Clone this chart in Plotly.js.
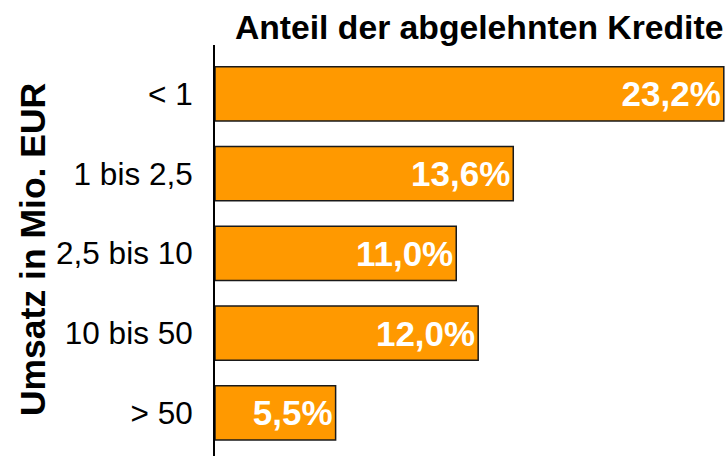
<!DOCTYPE html>
<html>
<head>
<meta charset="utf-8">
<script src="https://cdn.plot.ly/plotly-3.0.1.min.js"></script>
<style>html,body{margin:0;padding:0;background:#fff;}#chart{width:726px;height:456px;}</style>
</head>
<body>
<div id="chart"></div>
<script>
const categories = ["< 1", "1 bis 2,5", "2,5 bis 10", "10 bis 50", "> 50"];
const values = [23.2, 13.6, 11.0, 12.0, 5.5];
const labels = ["23,2%", "13,6%", "11,0%", "12,0%", "5,5%"];

const trace = {
  type: "bar",
  orientation: "h",
  x: values,
  y: categories,
  text: labels,
  textposition: "inside",
  insidetextanchor: "end",
  textangle: 0,
  insidetextfont: {family: "Liberation Sans, Arial, sans-serif", size: 35, color: "#ffffff", weight: "bold"},
  marker: {color: "#FF9900", line: {color: "#1a1a1a", width: 1.5}},
  hoverinfo: "skip",
  cliponaxis: false
};

const layout = {
  width: 726,
  height: 456,
  margin: {l: 215, r: 0, t: 45, b: 0, pad: 0},
  paper_bgcolor: "#ffffff",
  plot_bgcolor: "#ffffff",
  bargap: 0.32,
  showlegend: false,
  font: {family: "Liberation Sans, Arial, sans-serif", color: "#000000"},
  title: {
    text: "<b>Anteil der abgelehnten Kredite</b>",
    font: {family: "Liberation Sans, Arial, sans-serif", size: 33.7, color: "#000000"},
    xref: "container", x: 0.66, xanchor: "center",
    yref: "container", y: 0.94, yanchor: "middle"
  },
  xaxis: {
    range: [0, 23.3],
    visible: false,
    showgrid: false,
    zeroline: false,
    fixedrange: true
  },
  yaxis: {
    type: "category",
    categoryorder: "array",
    categoryarray: categories,
    range: [4.54, -0.614],
    showline: true,
    linecolor: "#000000",
    linewidth: 2,
    showgrid: false,
    zeroline: false,
    ticks: "",
    ticklabelstandoff: 14,
    tickfont: {family: "Liberation Sans, Arial, sans-serif", size: 31.5, color: "#000000"},
    automargin: false,
    fixedrange: true
  },
  annotations: [{
    text: "<b>Umsatz in Mio. EUR</b>",
    textangle: -90,
    xref: "paper", x: (33 - 215) / 511, xanchor: "center",
    yref: "paper", y: 0.501, yanchor: "middle",
    showarrow: false,
    font: {family: "Liberation Sans, Arial, sans-serif", size: 35.5, color: "#000000"}
  }]
};

Plotly.newPlot("chart", [trace], layout, {displayModeBar: false, staticPlot: true});
</script>
</body>
</html>
